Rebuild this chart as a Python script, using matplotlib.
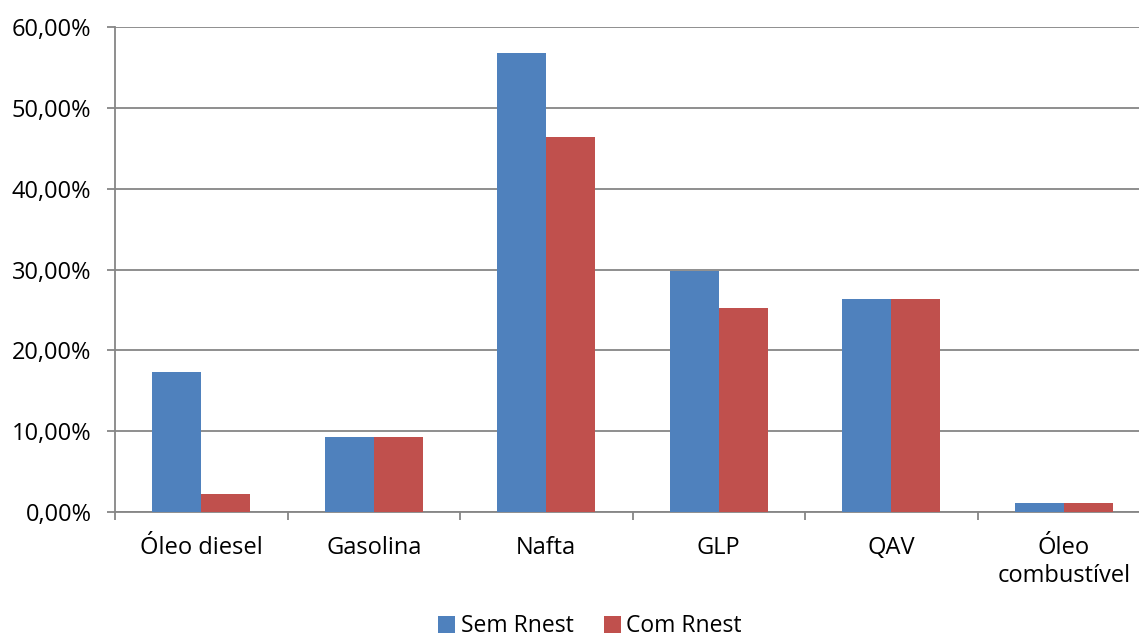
import numpy as np
import matplotlib
matplotlib.use("Agg")
import matplotlib.pyplot as plt
from matplotlib.ticker import FuncFormatter, MultipleLocator

categories = ["Óleo diesel", "Gasolina", "Nafta", "GLP", "QAV", "Óleo\ncombustível"]
sem_rnest = [17.3, 9.3, 56.8, 29.8, 26.3, 1.1]
com_rnest = [2.2, 9.3, 46.4, 25.2, 26.3, 1.1]

BLUE = "#4F81BD"
RED = "#C0504D"
GRID = "#868686"
FS = 17

plt.rcParams["font.family"] = ["Open Sans", "DejaVu Sans"]

fig = plt.figure(figsize=(11.39, 6.43), dpi=100)
# the plot area runs a little past the right edge of the picture, as in the original
ax = fig.add_axes([115 / 1139, 131 / 643, 1035 / 1139, 485 / 643])

x = np.arange(len(categories))
w = 0.284
ax.bar(x - w / 2, sem_rnest, w, color=BLUE, label="Sem Rnest", zorder=3)
ax.bar(x + w / 2, com_rnest, w, color=RED, label="Com Rnest", zorder=3)

ax.set_xlim(-0.5, len(categories) - 0.5)
ax.set_ylim(0, 60)
ax.yaxis.set_major_locator(MultipleLocator(10))
ax.yaxis.set_major_formatter(FuncFormatter(lambda v, _: f"{v:.2f}%".replace(".", ",")))
ax.yaxis.grid(True, color=GRID, linewidth=1.3, zorder=0)

ax.set_xticks(x)
ax.set_xticklabels(categories, fontsize=FS, linespacing=1.25)
ax.set_xticks(np.arange(-0.5, len(categories)), minor=True)
ax.tick_params(axis="x", which="major", length=0, pad=17)
ax.tick_params(axis="x", which="minor", length=6, color=GRID, width=1.3)
ax.tick_params(axis="y", length=6, color=GRID, width=1.3, pad=11, labelsize=FS)

for side in ("top", "right"):
    ax.spines[side].set_visible(False)
for side in ("left", "bottom"):
    ax.spines[side].set_color(GRID)
    ax.spines[side].set_linewidth(1.3)

fig.legend(loc="center", bbox_to_anchor=(0.518, 0.026), ncol=2, frameon=False,
           fontsize=16.5, handlelength=0.75, handleheight=0.75, handletextpad=0.25,
           columnspacing=1.3)

fig.savefig("out.png", dpi=100)
